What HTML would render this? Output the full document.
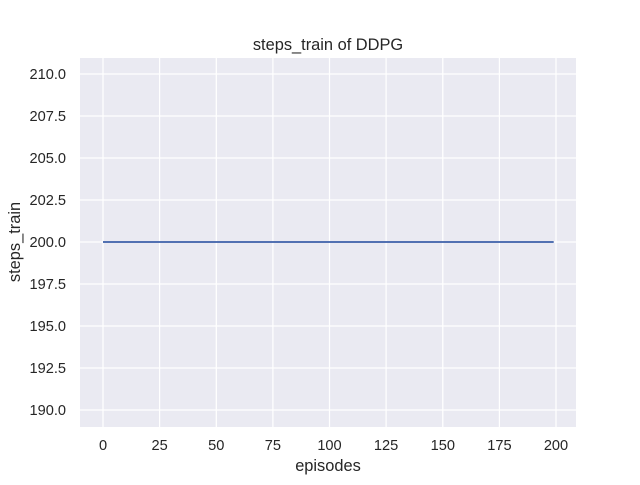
<!DOCTYPE html>
<html><head><meta charset="utf-8"><style>
body{margin:0;background:#fff}
text{font-family:"Liberation Sans",Arial,sans-serif;fill:#262626}
</style></head><body>
<svg width="640" height="480" xmlns="http://www.w3.org/2000/svg">
<rect width="640" height="480" fill="#fff"/>
<rect x="80" y="58" width="496" height="369" fill="#eaeaf2"/>
<g stroke="#fff" stroke-width="1.25">
<line x1="103" y1="58" x2="103" y2="427"/>
<line x1="159.6" y1="58" x2="159.6" y2="427"/>
<line x1="216.3" y1="58" x2="216.3" y2="427"/>
<line x1="272.9" y1="58" x2="272.9" y2="427"/>
<line x1="329.5" y1="58" x2="329.5" y2="427"/>
<line x1="386.1" y1="58" x2="386.1" y2="427"/>
<line x1="442.8" y1="58" x2="442.8" y2="427"/>
<line x1="499.4" y1="58" x2="499.4" y2="427"/>
<line x1="556" y1="58" x2="556" y2="427"/>
<line x1="80" y1="74" x2="576" y2="74"/>
<line x1="80" y1="116" x2="576" y2="116"/>
<line x1="80" y1="158" x2="576" y2="158"/>
<line x1="80" y1="200" x2="576" y2="200"/>
<line x1="80" y1="242" x2="576" y2="242"/>
<line x1="80" y1="284" x2="576" y2="284"/>
<line x1="80" y1="326" x2="576" y2="326"/>
<line x1="80" y1="368" x2="576" y2="368"/>
<line x1="80" y1="410" x2="576" y2="410"/>
</g>
<line x1="103" y1="242" x2="553.7" y2="242" stroke="#3b5fa8" stroke-width="1.8"/>
<g font-size="14.6" text-anchor="end">
<text x="66" y="79">210.0</text>
<text x="66" y="121">207.5</text>
<text x="66" y="163">205.0</text>
<text x="66" y="205">202.5</text>
<text x="66" y="247">200.0</text>
<text x="66" y="289">197.5</text>
<text x="66" y="331">195.0</text>
<text x="66" y="373">192.5</text>
<text x="66" y="415">190.0</text>
</g>
<g font-size="14.6" text-anchor="middle">
<text x="103" y="450">0</text>
<text x="159.6" y="450">25</text>
<text x="216.3" y="450">50</text>
<text x="272.9" y="450">75</text>
<text x="329.5" y="450">100</text>
<text x="386.1" y="450">125</text>
<text x="442.8" y="450">150</text>
<text x="499.4" y="450">175</text>
<text x="556" y="450">200</text>
<text x="328" y="471" font-size="16.4">episodes</text>
<text x="328" y="50" font-size="16.4">steps_train of DDPG</text>
<text transform="translate(20,242) rotate(-90)" font-size="16.4">steps_train</text>
</g>
</svg>
</body></html>
